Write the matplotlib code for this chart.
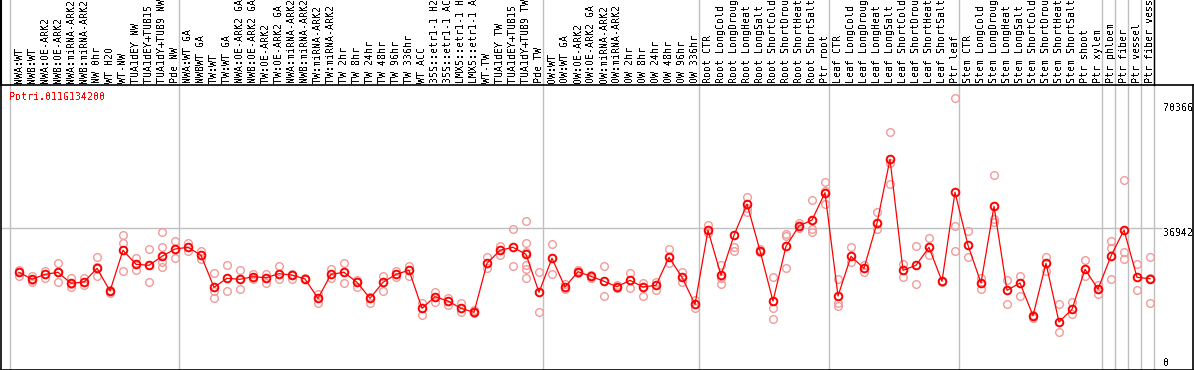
import numpy as np
import matplotlib
matplotlib.use("Agg")
import matplotlib.pyplot as plt

gene = "Potri.011G134200"

labels = ["NWA:WT", "NWB:WT", "NWA:OE-ARK2", "NWB:OE-ARK2", "NWA:miRNA-ARK2", "NWB:miRNA-ARK2",
          "NW 0hr", "WT H2O", "WT-NW", "TUA1dEY NW", "TUA1dEY+TUB15 NW", "TUA1dY+TUB9 NW", "Pde NW",
          "NWA:WT GA", "NWBWT GA", "TW:WT", "TW:WT GA", "NWA:OE-ARK2 GA", "NWB:OE-ARK2 GA",
          "TW:OE-ARK2", "TW:OE-ARK2 GA", "NWA:miRNA-ARK2 GA", "NWB:miRNA-ARK2 GA", "TW:miRNA-ARK2",
          "TW:miRNA-ARK2 GA", "TW 2hr", "TW 8hr", "TW 24hr", "TW 48hr", "TW 96hr", "TW 336hr", "WT ACC",
          "35S::etr1-1 H2O", "35S::etr1-1 ACC", "LMX5::etr1-1 H2O", "LMX5::etr1-1 ACC", "WT-TW",
          "TUA1dEY TW", "TUA1dEY+TUB15 TW", "TUA1dY+TUB9 TW", "Pde TW",
          "OW:WT", "OW:WT GA", "OW:OE-ARK2", "OW:OE-ARK2 GA", "OW:miRNA-ARK2", "OW:miRNA-ARK2 GA",
          "OW 2hr", "OW 8hr", "OW 24hr", "OW 48hr", "OW 96hr", "OW 336hr",
          "Root CTR", "Root LongCold", "Root LongDrought", "Root LongHeat", "Root LongSalt",
          "Root ShortCold", "Root ShortDrought", "Root ShortHeat", "Root ShortSalt", "Ptr root",
          "Leaf CTR", "Leaf LongCold", "Leaf LongDrought", "Leaf LongHeat", "Leaf LongSalt",
          "Leaf ShortCold", "Leaf ShortDrought", "Leaf ShortHeat", "Leaf ShortSalt", "Ptr leaf",
          "Stem CTR", "Stem LongCold", "Stem LongDrought", "Stem LongHeat", "Stem LongSalt",
          "Stem ShortCold", "Stem ShortDrought", "Stem ShortHeat", "Stem ShortSalt", "Ptr shoot",
          "Ptr xylem", "Ptr phloem", "Ptr fiber", "Ptr vessel", "Ptr fiber vessel"]

# first index of each sample group
group_starts = [0, 13, 41, 53, 63, 73, 84, 85, 86, 87, 88]

means = [25633, 23833, 25119, 25633, 22805, 23139, 26661, 20825, 31289, 27690,
         27433, 29747, 31623, 32060, 30004, 21776, 24090, 23833, 24502, 24245,
         25273, 24939, 23910, 18948, 25119, 25633, 23062, 18948, 23062, 25119,
         26147, 16377, 19360, 18254, 16377, 15349, 27947, 31289, 32060, 30261,
         20491, 29232, 21854, 25787, 24604, 23319, 21931, 23576, 21854, 22291,
         29489, 24347, 17406, 36431, 24862, 35146, 43193, 31186, 18254, 32318,
         37537, 39079, 46098, 19540, 29747, 26661, 38308, 54685, 26147, 27433,
         32060, 23319, 46201, 32575, 22882, 42601, 21005, 22882, 14475, 27947,
         12855, 16120, 26404, 21339, 29824, 36508, 24347, 23987]

reps = [[26147, 25600, 24759], [24759, 23653, 23100], [25967, 24245], [28101, 25787, 23216],
        [24245, 22625, 21931], [24245, 22368], [29567, 27073, 24759], [21159, 20234],
        [35223, 33089, 25967], [29387, 26224], [31623, 27510, 23062], [35917, 32060, 28358, 27073],
        [33680, 29387], [33089, 31109], [31186, 28975], [25376, 20825, 18948],
        [27433, 20825], [26147, 21416], [25273, 23910], [25273, 22959],
        [27253, 23833], [25273, 23910], [24090], [19977, 17663],
        [26404, 24245], [28024, 22805], [23653, 21931], [19283, 17663],
        [24682, 20825], [25900, 24500], [27330, 24759], [17740, 14732],
        [20645, 18074], [18948, 17226], [17663, 15349], [15940, 15092],
        [29489, 26816], [32472, 30081], [36688, 27176], [38822, 33166, 30929, 27510, 26404, 24090],
        [25710, 15349], [32909, 25119], [22548, 21339], [26224, 25376],
        [24939, 24090], [27253, 19540], [22368, 21519], [25376, 21519],
        [22882, 19540], [23216, 21082], [31623, 27947], [25787, 23062],
        [18589, 16532], [37794, 35660], [27510, 24090, 22702], [32215, 31186],
        [44915, 42087, 41213], [31546, 30929], [24347, 16532, 13549], [35403, 35043, 26738],
        [38385, 36945], [44221, 36765, 36071], [48772, 46535, 43116], [23910, 17663, 17046],
        [32060, 28358], [27510, 25787], [41136, 36688], [61704, 53657, 48412],
        [27767, 24502], [32318, 22548], [34374, 30081], [23216],
        [70366, 37537, 31032], [36251, 29644], [24245, 21339], [50649, 39259, 38642],
        [23653, 17483], [24604, 19540], [14655, 13806], [29644, 26044],
        [17483, 10361], [17920, 14835], [28795, 24759], [22368, 19977],
        [33757, 31957, 23833], [49285, 30775, 29052], [27767, 21082], [29489, 24245, 17663]]

ytick_vals = [70366, 36942, 0]
ref_line = 36942

plt.rcParams['font.family'] = ['DejaVu Sans Mono']
plt.rcParams['text.antialiased'] = False
fs = 7.2

fig = plt.figure(figsize=(11.94, 3.70), dpi=100)
ax = fig.add_axes([1/1194, 0.5/370, 1192/1194, 284.5/370])

x = np.arange(len(means))
ax.set_xlim((1 - 19) / 13, (1193 - 19) / 13)
ax.set_ylim(643, 73788)
ext = 1 + 86/284.5

# group separators, running up through the label area
for g in group_starts:
    ax.axvline(g - 0.69, ymin=0, ymax=ext, color='#c0c0c0', lw=1, clip_on=False, zorder=1)
ax.axvline(group_starts[-1] - 0.69, ymin=1, ymax=ext, color='k', lw=1, clip_on=False, zorder=2)
ax.axvline(ax.get_xlim()[0], ymin=1, ymax=ext, color='k', lw=1.5, clip_on=False, zorder=2)
ax.hlines(ref_line, ax.get_xlim()[0], 87.9, color='#c0c0c0', lw=1, zorder=1)

# replicate points
for i, r in enumerate(reps):
    ax.plot([i]*len(r), r, ls='none', marker='o', ms=5.5, mfc='none', mec='#f29a9a', mew=1, zorder=2)

ax.plot(x, means, color='red', lw=0.9, marker='o', ms=5.5, mfc='none', mec='red', mew=1.4, zorder=3)

for i, lab in enumerate(labels):
    ax.annotate(lab, xy=(i, 1), xycoords=('data', 'axes fraction'), xytext=(0, 2),
                textcoords='offset pixels', rotation=90, ha='center', va='bottom',
                fontsize=fs, annotation_clip=False)

ax.annotate(gene, xy=(0, 1), xycoords='axes fraction', xytext=(8, -7), textcoords='offset pixels',
            ha='left', va='top', color='red', fontsize=fs)

offs = [-5, 0, 14]
for v, o in zip(ytick_vals, offs):
    ax.annotate(str(v), xy=(88, v), xytext=(0, o), textcoords='offset pixels',
                ha='left', va='top', fontsize=fs, annotation_clip=False)

ax.set_xticks([])
ax.set_yticks([])
for s in ax.spines.values():
    s.set_linewidth(1.2)

fig.savefig("out.png", dpi=100)
